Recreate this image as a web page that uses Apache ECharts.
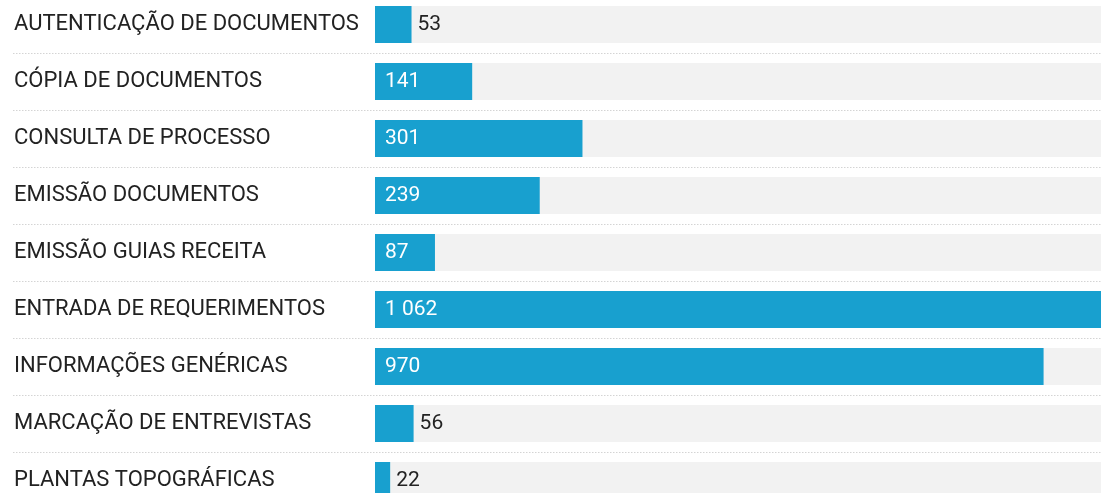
<!DOCTYPE html>
<html>
<head>
<meta charset="utf-8">
<script src="https://cdn.jsdelivr.net/npm/echarts@6/dist/echarts.min.js"></script>
<style>
  html, body { margin: 0; padding: 0; background: #fff; }
  #chart { width: 1101px; height: 493px; }
</style>
</head>
<body>
<div id="chart"></div>
<script>
const categories = [
  'AUTENTICAÇÃO DE DOCUMENTOS',
  'CÓPIA DE DOCUMENTOS',
  'CONSULTA DE PROCESSO',
  'EMISSÃO DOCUMENTOS',
  'EMISSÃO GUIAS RECEITA',
  'ENTRADA DE REQUERIMENTOS',
  'INFORMAÇÕES GENÉRICAS',
  'MARCAÇÃO DE ENTREVISTAS',
  'PLANTAS TOPOGRÁFICAS'
];
const values = [53, 141, 301, 239, 87, 1062, 970, 56, 22];

const fmt = v => String(v).replace(/\B(?=(\d{3})+(?!\d))/g, ' ');

const fontFamily = 'Roboto, "Noto Sans", sans-serif';

const insideLabel = { show: true, position: 'insideLeft', distance: 10, color: '#fff' };
const outsideLabel = { show: true, position: 'right', distance: 6, color: '#222' };

const chart = echarts.init(document.getElementById('chart'), null, { renderer: 'canvas' });

chart.setOption({
  animation: false,
  textStyle: { fontFamily },
  grid: [
    { left: 375, right: -6, top: -4, height: 513, outerBoundsMode: 'none' },
    { left: 13, right: 0, top: -4, height: 513, outerBoundsMode: 'none' }
  ],
  xAxis: [
    { gridIndex: 0, type: 'value', min: 0, max: 1062, show: false },
    { gridIndex: 1, type: 'value', min: 0, max: 1, show: false }
  ],
  yAxis: [
    {
      gridIndex: 0,
      type: 'category',
      inverse: true,
      data: categories,
      axisLine: { show: false },
      axisTick: { show: false },
      splitLine: { show: false },
      axisLabel: {
        align: 'left',
        margin: 361,
        color: '#222',
        fontSize: 22,
        fontFamily
      }
    },
    {
      gridIndex: 1,
      type: 'category',
      inverse: true,
      data: categories,
      axisLine: { show: false },
      axisTick: { show: false },
      axisLabel: { show: false },
      splitLine: {
        show: true,
        lineStyle: { color: '#d4d4d4', type: [1.5, 1.5], width: 1 }
      }
    }
  ],
  series: [
    {
      type: 'bar',
      xAxisIndex: 0,
      yAxisIndex: 0,
      barWidth: 37,
      showBackground: true,
      backgroundStyle: { color: '#f2f2f2' },
      itemStyle: { color: '#18a0cf' },
      label: {
        fontSize: 21,
        fontFamily,
        formatter: p => fmt(p.value)
      },
      data: values.map(v => ({
        value: v,
        label: v > 80 ? insideLabel : outsideLabel
      }))
    }
  ]
});
</script>
</body>
</html>
